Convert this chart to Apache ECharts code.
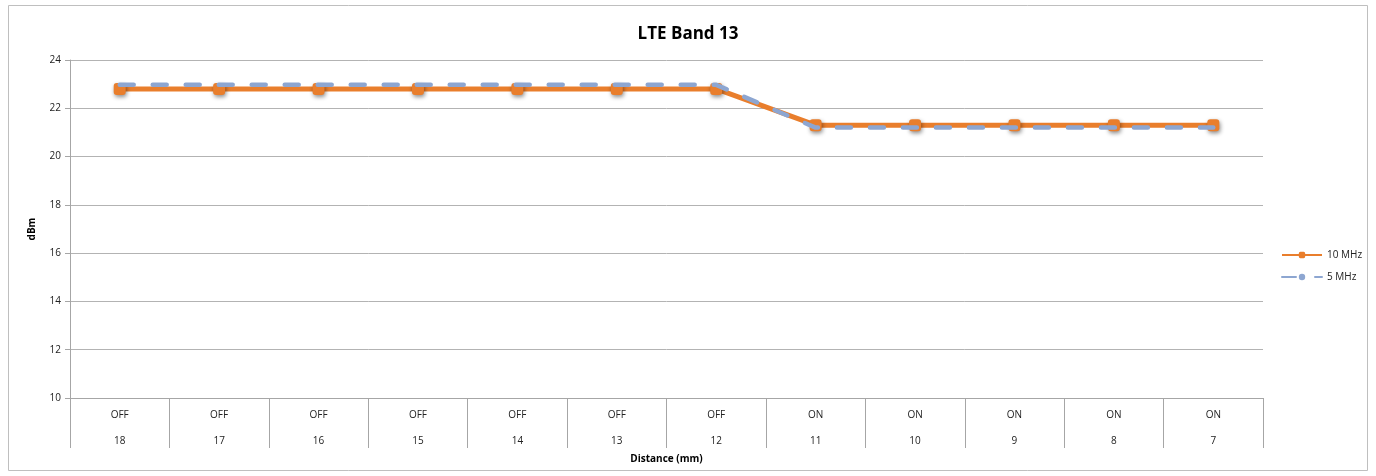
<!DOCTYPE html>
<html>
<head>
<meta charset="utf-8">
<script src="https://cdn.jsdelivr.net/npm/echarts@6/dist/echarts.min.js"></script>
<style>
  html, body { margin: 0; padding: 0; background: #fff; }
  #chart { width: 1376px; height: 476px; }
</style>
</head>
<body>
<div id="chart"></div>
<script>
// Proximity sensor state and distance for each measurement point
const sensorState = ['OFF', 'OFF', 'OFF', 'OFF', 'OFF', 'OFF', 'OFF', 'ON', 'ON', 'ON', 'ON', 'ON'];
const distanceMm = ['18', '17', '16', '15', '14', '13', '12', '11', '10', '9', '8', '7'];

// Conducted power (dBm) per bandwidth
const power10MHz = [22.8, 22.8, 22.8, 22.8, 22.8, 22.8, 22.8, 21.3, 21.3, 21.3, 21.3, 21.3];
const power5MHz = [22.97, 22.97, 22.97, 22.97, 22.97, 22.97, 22.97, 21.2, 21.2, 21.2, 21.2, 21.2];

const yTicks = { min: 10, max: 24, interval: 2 };

const categories = sensorState.map((s, i) => s + '\n' + distanceMm[i]);

const FONT = '"Open Sans", "Liberation Sans", sans-serif';
const gridBox = { left: 70, right: 113, top: 60, bottom: 78 };

const chart = echarts.init(document.getElementById('chart'));
chart.setOption({
  backgroundColor: '#ffffff',
  animation: false,
  textStyle: { fontFamily: FONT },
  title: [
    {
      text: 'LTE Band 13',
      left: 'center',
      top: 21,
      textStyle: { fontSize: 17, fontWeight: 'bold', color: '#000', fontFamily: FONT }
    },
    {
      // x-axis caption, centred under the plot area
      text: 'Distance (mm)',
      left: gridBox.left + (1376 - gridBox.left - gridBox.right) / 2,
      textAlign: 'center',
      top: 454,
      padding: 0,
      textStyle: { fontSize: 10, fontWeight: 'bold', color: '#000', fontFamily: FONT }
    }
  ],
  graphic: [{
    type: 'rect',
    shape: { x: 8.5, y: 5.5, width: 1359, height: 465 },
    style: { fill: 'none', stroke: '#BFBFBF', lineWidth: 1 },
    silent: true
  }],
  grid: gridBox,
  legend: {
    orient: 'vertical',
    left: 1276,
    top: 245,
    itemWidth: 40,
    itemHeight: 8,
    itemGap: 12,
    textStyle: { fontSize: 10, color: '#222', fontFamily: FONT },
    data: ['10 MHz', '5 MHz']
  },
  xAxis: {
    type: 'category',
    data: categories,
    boundaryGap: true,
    axisLine: { show: true, lineStyle: { color: '#A6A6A6', width: 1 } },
    axisTick: { show: true, length: 50, interval: 0, lineStyle: { color: '#A6A6A6' } },
    axisLabel: {
      interval: 0,
      fontSize: 10,
      color: '#222',
      lineHeight: 26,
      margin: 4,
      fontFamily: FONT
    },
    splitLine: { show: false }
  },
  yAxis: {
    type: 'value',
    min: yTicks.min,
    max: yTicks.max,
    interval: yTicks.interval,
    name: 'dBm',
    nameLocation: 'middle',
    nameGap: 33,
    nameRotate: 90,
    nameTextStyle: { fontSize: 10, fontWeight: 'bold', color: '#000', fontFamily: FONT },
    axisLine: { show: true, lineStyle: { color: '#A6A6A6' } },
    axisTick: { show: true, length: 5, lineStyle: { color: '#A6A6A6' } },
    axisLabel: { fontSize: 10, color: '#222', margin: 9, fontFamily: FONT },
    splitLine: { show: true, lineStyle: { color: '#B3B3B3', width: 1 } }
  },
  series: [
    {
      name: '10 MHz',
      type: 'line',
      data: power10MHz,
      symbol: 'roundRect',
      symbolSize: 12,
      z: 2,
      lineStyle: { color: '#E97E2C', width: 5 },
      itemStyle: {
        color: '#E97E2C',
        shadowColor: 'rgba(0,0,0,0.45)',
        shadowBlur: 4,
        shadowOffsetX: 1,
        shadowOffsetY: 2
      }
    },
    {
      name: '5 MHz',
      type: 'line',
      data: power5MHz,
      symbol: 'none',
      z: 3,
      lineStyle: { color: '#8DA6D1', width: 4.5, type: [14, 19], cap: 'round' },
      itemStyle: { color: '#8DA6D1' }
    }
  ]
});
</script>
</body>
</html>
